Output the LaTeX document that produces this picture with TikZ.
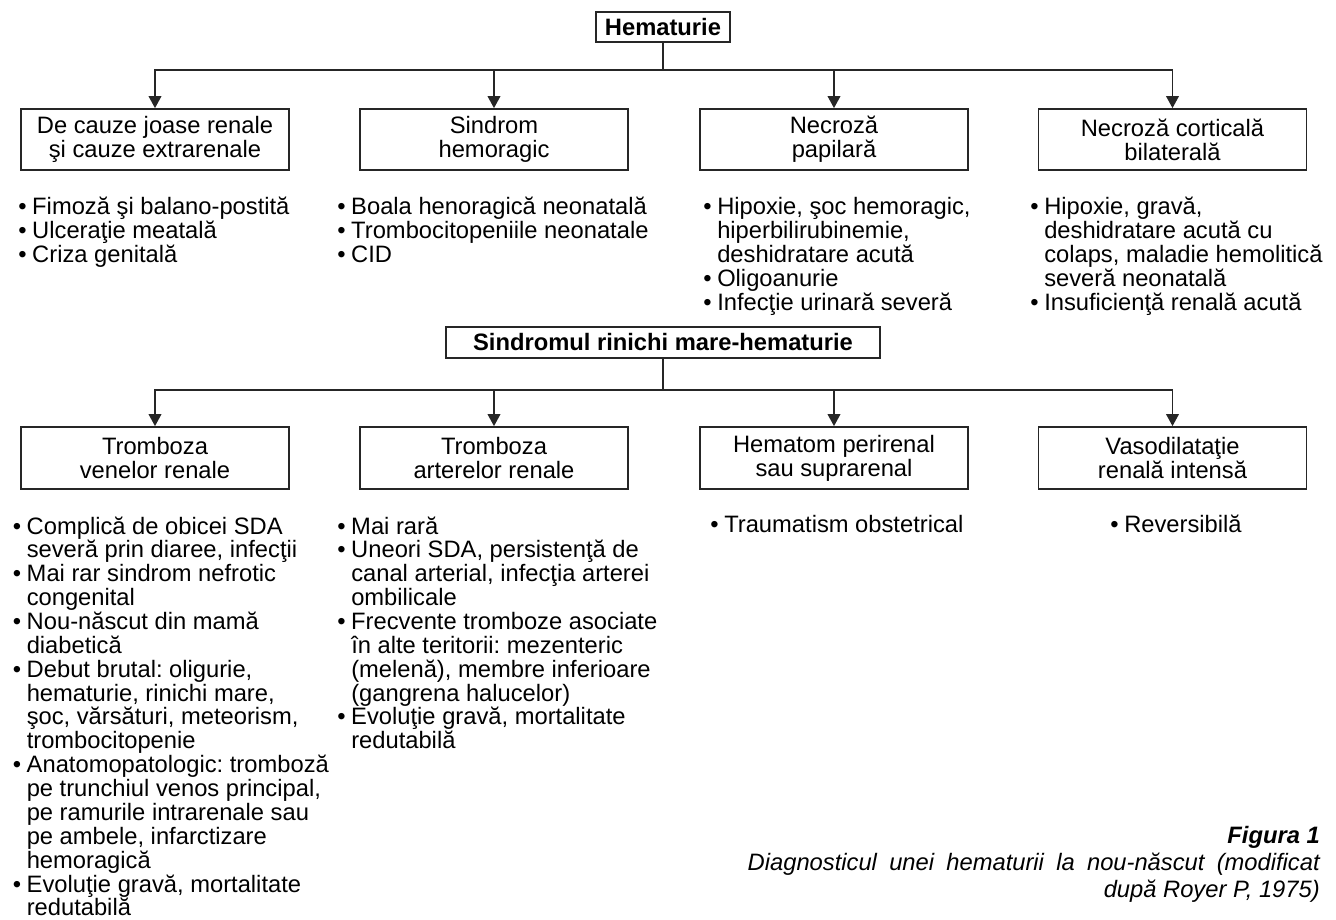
\documentclass[tikz,border=0pt]{standalone}
\usepackage{fontspec}
\setmainfont{Liberation Sans}
\usetikzlibrary{arrows.meta}
\frenchspacing
\newlength{\bw}
\setlength{\bw}{10.5pt}
\newcommand{\basefont}{\fontsize{17.8pt}{17.9pt}\selectfont\frenchspacing}
\newcommand{\itm}[1]{\par\hangindent=\bw\hangafter=1\noindent\makebox[\bw][l]{\textbullet}#1\par}
\newcommand{\blist}[2]{\parbox[t]{#1}{#2}}
\tikzset{
  box/.style={draw=black!85, line width=1.3pt, minimum width=201pt, align=center, inner sep=0pt},
  upbox/.style={box, minimum height=45.75pt},
  lowbox/.style={box, minimum height=46.5pt},
  headbox/.style={draw=black!85, line width=1.3pt, inner sep=0pt, font=\basefont\bfseries},
  conn/.style={draw=black!85, line width=1.1pt},
  arr/.style={-{Triangle[width=9.5pt,length=9pt]}},
  lst/.style={anchor=base west, inner sep=0pt},
  captxt/.style={anchor=base east, inner sep=0pt}
}
\begin{document}
\begin{tikzpicture}[x=0.75pt,y=-0.75pt,font=\basefont]
\useasboundingbox (0,0) rectangle (1336,920);

% top level
\node[headbox, minimum width=100.5pt, minimum height=22.5pt] (hem) at (663,27) {Hematurie};
\coordinate (j1) at (663,70);

\node[upbox] (b1) at (155,139.5) {De cauze joase renale\\şi cauze extrarenale};
\node[upbox] (b2) at (494,139.5) {Sindrom\\hemoragic};
\node[upbox] (b3) at (834,139.5) {Necroză\\papilară};
\node[upbox] (b4) at (1172.5,139.5) {Necroză corticală\\bilaterală};

\foreach \b in {b1,b2,b3,b4}
  \draw[conn,arr] (hem.south) -- (j1) -| (\b.north);

\node[lst] (u1) at (18,215) {\blist{235pt}{%
\itm{Fimoză şi balano-postită}%
\itm{Ulceraţie meatală}%
\itm{Criza genitală}}};
\node[lst] (u2) at (337,215) {\blist{265pt}{%
\itm{Boala henoragică neonatală}%
\itm{Trombocitopeniile neonatale}%
\itm{CID}}};
\node[lst] (u3) at (703,215) {\blist{240pt}{%
\itm{Hipoxie, şoc hemoragic,\newline hiperbilirubinemie,\newline deshidratare acută}%
\itm{Oligoanurie}%
\itm{Infecţie urinară severă}}};
\node[lst] (u4) at (1030,215) {\blist{228pt}{%
\itm{Hipoxie, gravă,\newline deshidratare acută cu\newline colaps, maladie hemolitică\newline severă neonatală}%
\itm{Insuficienţă renală acută}}};

% second level
\node[headbox, minimum width=325.5pt, minimum height=23.25pt] (srm) at (663,342.5) {Sindromul rinichi mare-hematurie};
\coordinate (j2) at (663,390);

\node[lowbox] (c1) at (155,458) {Tromboza\\venelor renale};
\node[lowbox] (c2) at (494,458) {Tromboza\\arterelor renale};
\node[lowbox] (c3) at (834,458) {Hematom perirenal\\sau suprarenal};
\node[lowbox] (c4) at (1172.5,458) {Vasodilataţie\\renală intensă};

\foreach \c in {c1,c2,c3,c4}
  \draw[conn,arr] (srm.south) -- (j2) -| (\c.north);

\node[lst] (l1) at (12.5,534) {\blist{242pt}{%
\itm{Complică de obicei SDA\newline severă prin diaree, infecţii}%
\itm{Mai rar sindrom nefrotic\newline congenital}%
\itm{Nou-născut din mamă\newline diabetică}%
\itm{Debut brutal: oligurie,\newline hematurie, rinichi mare,\newline şoc, vărsături, meteorism,\newline trombocitopenie}%
\itm{Anatomopatologic: tromboză\newline pe trunchiul venos principal,\newline pe ramurile intrarenale sau\newline pe ambele, infarctizare\newline hemoragică}%
\itm{Evoluţie gravă, mortalitate\newline redutabilă}}};
\node[lst] (l2) at (337,534) {\blist{260pt}{%
\itm{Mai rară}%
\itm{Uneori SDA, persistenţă de\newline canal arterial, infecţia arterei\newline ombilicale}%
\itm{Frecvente tromboze asociate\newline în alte teritorii: mezenteric\newline (melenă), membre inferioare\newline (gangrena halucelor)}%
\itm{Evoluţie gravă, mortalitate\newline redutabilă}}};
\node[lst] (l3) at (710,532) {\blist{200pt}{\itm{Traumatism obstetrical}}};
\node[lst] (l4) at (1110,532) {\blist{160pt}{\itm{Reversibilă}}};

% caption
\node[captxt, font=\basefont\bfseries\itshape] (cap1) at (1320,843) {Figura 1};
\node[captxt, font=\basefont\itshape] (cap2) at (1320,870) {\makebox[429pt][s]{Diagnosticul unei hematurii la nou-născut (modificat}};
\node[captxt, font=\basefont\itshape] (cap3) at (1320,897) {după Royer P, 1975)};
\end{tikzpicture}
\end{document}
